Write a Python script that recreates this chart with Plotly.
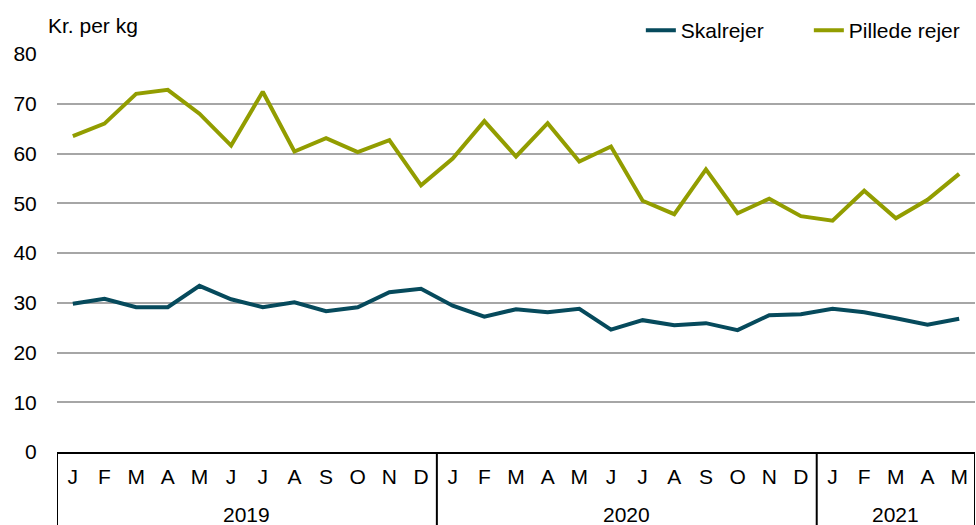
import plotly.graph_objects as go

years = ["2019"] * 12 + ["2020"] * 12 + ["2021"] * 5
months = ["J", "F", "M", "A", "M", "J", "J", "A", "S", "O", "N", "D"] * 2 + ["J", "F", "M", "A", "M"]

skalrejer = [29.8, 30.8, 29.1, 29.1, 33.4, 30.7, 29.1, 30.1, 28.3, 29.1, 32.1, 32.8,
             29.4, 27.2, 28.7, 28.1, 28.8, 24.6, 26.5, 25.5, 25.9, 24.5, 27.5, 27.7,
             28.8, 28.1, 26.9, 25.6, 26.8]
pillede = [63.5, 66.0, 72.0, 72.8, 68.0, 61.6, 72.4, 60.4, 63.1, 60.3, 62.7, 53.6,
           59.0, 66.5, 59.4, 66.1, 58.4, 61.4, 50.5, 47.8, 56.8, 48.0, 50.9, 47.4,
           46.5, 52.5, 47.0, 50.7, 55.9]

y_ticks = [0, 10, 20, 30, 40, 50, 60, 70, 80]

FONT = "Liberation Sans, Arial, sans-serif"
FS = 21
idx = list(range(len(months)))

fig = go.Figure()
fig.add_trace(go.Scatter(x=idx, y=skalrejer, name="Skalrejer", mode="lines",
                         line=dict(color="#064a5c", width=4)))
fig.add_trace(go.Scatter(x=idx, y=pillede, name="Pillede rejer", mode="lines",
                         line=dict(color="#929d00", width=4)))

# year groups -> dividers and labels
groups = []
for i, yv in enumerate(years):
    if not groups or groups[-1][0] != yv:
        groups.append([yv, i, i])
    else:
        groups[-1][2] = i

shapes = []
annotations = [dict(text="Kr. per kg", xref="paper", yref="paper", x=-0.012, y=1.072,
                    xanchor="left", yanchor="middle", showarrow=False,
                    font=dict(size=FS))]
bounds = [g[1] - 0.5 for g in groups] + [groups[-1][2] + 0.5]
for b in bounds:
    shapes.append(dict(type="line", xref="x", yref="paper", x0=b, x1=b, y0=0, y1=-0.25,
                       line=dict(color="black", width=2)))
for name, a, z in groups:
    annotations.append(dict(text=name, xref="x", yref="paper", x=(a + z) / 2, y=-0.157,
                            xanchor="center", yanchor="middle", showarrow=False,
                            font=dict(size=FS)))

fig.update_layout(
    width=976, height=525,
    margin=dict(l=57, r=1, t=54, b=73, autoexpand=False),
    paper_bgcolor="white", plot_bgcolor="white",
    font=dict(family=FONT, size=FS, color="black"),
    showlegend=True,
    legend=dict(orientation="h", x=0.636, xanchor="left", y=1.059, yanchor="middle",
                entrywidth=123, entrywidthmode="pixels",
                font=dict(size=FS), bgcolor="rgba(0,0,0,0)", traceorder="normal"),
    shapes=shapes,
    annotations=annotations,
)
fig.update_xaxes(range=[-0.5, len(months) - 0.5], showgrid=False, zeroline=False,
                 tickmode="array", tickvals=idx, ticktext=months,
                 showline=True, linecolor="black", linewidth=2,
                 ticks="outside", ticklen=5, tickcolor="rgba(0,0,0,0)",
                 tickfont=dict(size=FS))
fig.update_yaxes(range=[0, 80], tickvals=y_ticks, showgrid=True, gridcolor="#a6a6a6",
                 gridwidth=1.5, zeroline=False, showline=False,
                 ticks="outside", ticklen=15, tickcolor="rgba(0,0,0,0)",
                 tickfont=dict(size=FS))

fig.write_html("out.html", config={"displayModeBar": False},
               post_script="document.body.style.margin='0';document.body.style.overflow='hidden';")
